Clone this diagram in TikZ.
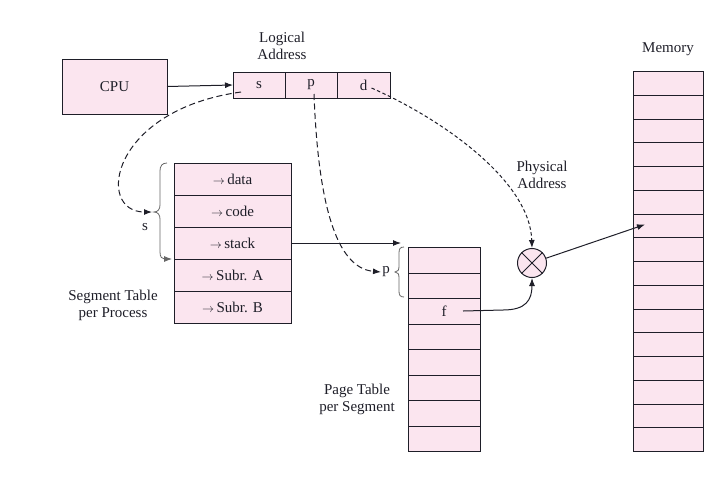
\documentclass[tikz,border=0pt]{standalone}
\usepackage{fontspec}
\setmainfont{Liberation Serif}
\usetikzlibrary{arrows.meta,calc}
\definecolor{cellpink}{RGB}{251,229,239}
\definecolor{inkc}{RGB}{30,30,40}
\begin{document}
\begin{tikzpicture}[x=1pt,y=-1pt,
  every node/.style={font=\fontsize{15}{17}\selectfont, text=inkc},
  cell/.style={draw=inkc, fill=cellpink, line width=1pt, inner sep=0pt, outer sep=0pt, anchor=north west},
  arr/.style={-{Latex[length=8pt,width=6pt]}, line width=1pt, draw=inkc},
  dsh/.style={arr, dash pattern=on 6pt off 3.5pt},
  dotl/.style={arr, dash pattern=on 3.5pt off 2.5pt},
  brc/.style={draw=gray!80!black, line width=0.8pt},
  lbl/.style={align=center, inner sep=0pt}]
\useasboundingbox (0,0) rectangle (720,491);

% CPU
\node[cell, minimum width=105pt, minimum height=55pt] (cpu) at (62,59) {CPU};

% Logical address
\node[cell, minimum width=52pt, minimum height=26pt] (las) at (233,72) {s};
\node[cell, minimum width=52pt, minimum height=26pt] (lap) at (285,72) {p};
\node[cell, minimum width=53pt, minimum height=26pt] (lad) at (337,72) {d};
\node[lbl] (lalbl) at (282,46) {Logical\\Address};

% Segment table
\foreach \i/\t in {1/data,2/code,3/stack,4/Subr. A,5/Subr. B}{
  \node[cell, minimum width=117pt, minimum height=32pt] (seg\i) at (174,{163+(\i-1)*32})
    {{\fontsize{12}{12}\selectfont$\rightarrow$}\,\t};
}
\node[lbl] (seglbl) at (113,305) {Segment Table\\per Process};

% Page table
\foreach \i in {1,...,8}{
  \pgfmathsetmacro{\ta}{247+round((\i-1)*25.5)}
  \pgfmathsetmacro{\tb}{247+round(\i*25.5)}
  \node[cell, minimum width=72pt, minimum height={(\tb-\ta)*1pt}] (pg\i) at (408,\ta) {};
}
\node (flbl) at (pg3.center) {f};
\node[lbl] (pglbl) at (357,399) {Page Table\\per Segment};

% Memory
\foreach \i in {1,...,16}{
  \pgfmathsetmacro{\ta}{71+round((\i-1)*23.75)}
  \pgfmathsetmacro{\tb}{71+round(\i*23.75)}
  \node[cell, minimum width=70pt, minimum height={(\tb-\ta)*1pt}] (mem\i) at (633,\ta) {};
}
\node (memlbl) at (668,49) {Memory};

% Multiplier / physical address
\node[circle, draw=inkc, fill=cellpink, line width=1pt, minimum size=29pt, inner sep=0pt] (mult) at (532,263) {};
\draw[line width=1pt, draw=inkc] (mult.north west) -- (mult.south east) (mult.north east) -- (mult.south west);
\node[lbl] (phlbl) at (542,175) {Physical\\Address};

% Segment brace
\draw[brc, -{Latex[length=8pt,width=6pt]}] (167,163) .. controls (162,163) and (160,166) .. (160,171)
  -- (160,205) .. controls (160,209) and (158,212) .. (154,212)
  .. controls (158,212) and (160,215) .. (160,219) -- (160,252)
  .. controls (160,257) and (162,259) .. (172,259);
\node (slbl) at (145,227) {s};
\coordinate (sbrace) at (152,212);

% Page brace
\draw[brc] (404,247) .. controls (400,247) and (399,249) .. (399,253)
  -- (399,266) .. controls (399,270) and (398,272) .. (395,272)
  .. controls (398,272) and (399,274) .. (399,278) -- (399,291)
  .. controls (399,295) and (400,297) .. (404,297);
\node (plbl) at (386,272) {p};
\coordinate (pbrace) at (381,272);
\coordinate (stackend) at (401,243);

% Connectors
\draw[arr] (cpu.east) -- (las.west);
\draw[dsh] ($(las.south west)+(8,-6)$) .. controls (110,110) and (95,212) .. (sbrace);
\draw[dsh] ($(lap.south)+(3,-4)$) .. controls (318,200) and (335,268) .. (pbrace);
\draw[dotl] ($(lad.center)+(8,3)$) .. controls (440,118) and (530,180) .. (mult.north);
\draw[arr] (seg3.east) -- (stackend);
\draw[arr] ($(flbl.center)+(19,0)$) -- (503,310) .. controls (526,310) and (532,300) .. (mult.south);
\draw[arr] (mult) -- ($(mem7.west)+(12,-1)$);
\end{tikzpicture}
\end{document}
